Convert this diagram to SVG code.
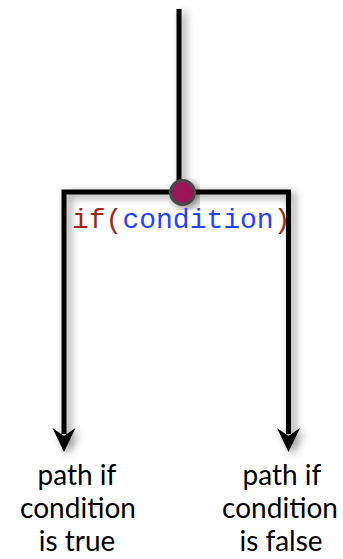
<svg xmlns="http://www.w3.org/2000/svg" width="343" height="559" viewBox="0 0 343 559">
  <style>
    .line { fill: none; stroke: #000; stroke-width: 5; stroke-linejoin: miter; }
    .head { fill: #000; stroke: none; }
    .code { font-family: "Liberation Mono", "DejaVu Sans Mono", monospace; font-size: 28px; }
    .kw { fill: #a3261a; }
    .cond { fill: #2442ff; }
    .label { font-family: Lato, "Open Sans", sans-serif; font-size: 28px; fill: #000; text-anchor: middle; }
  </style>
  <defs>
    <filter id="shadow" x="-20%" y="-20%" width="140%" height="140%">
      <feGaussianBlur in="SourceAlpha" stdDeviation="4"/>
      <feOffset dx="4" dy="3" result="b"/>
      <feComponentTransfer><feFuncA type="linear" slope="0.45"/></feComponentTransfer>
      <feMerge><feMergeNode/><feMergeNode in="SourceGraphic"/></feMerge>
    </filter>
  </defs>
  <rect width="343" height="559" fill="#fff"/>
  <g id="connectors" filter="url(#shadow)">
    <path class="line" d="M179,9 L179,192"/>
    <path class="line" d="M64,434 L64,192 L288.5,192 L288.5,434"/>
    <path class="head" d="M64,452 L52.5,428 L64,436 L75.5,428 Z"/>
    <path class="head" d="M288.5,452 L277,428 L288.5,436 L300,428 Z"/>
  </g>
  <g id="decision" filter="url(#shadow)">
    <circle cx="182.5" cy="192.5" r="12" fill="#9a1856" stroke="#4a4a4a" stroke-width="3"/>
  </g>
  <g id="condition-label">
    <text class="code" x="72" y="228"><tspan class="kw">if(</tspan><tspan class="cond">condition</tspan><tspan class="kw">)</tspan></text>
  </g>
  <g id="true-path">
    <text class="label" x="77" y="485">path if</text>
    <text class="label cond" x="78" y="518">condition</text>
    <text class="label" x="77" y="551">is true</text>
  </g>
  <g id="false-path">
    <text class="label" x="282" y="485">path if</text>
    <text class="label cond" x="280" y="518">condition</text>
    <text class="label" x="281" y="551">is false</text>
  </g>
</svg>
